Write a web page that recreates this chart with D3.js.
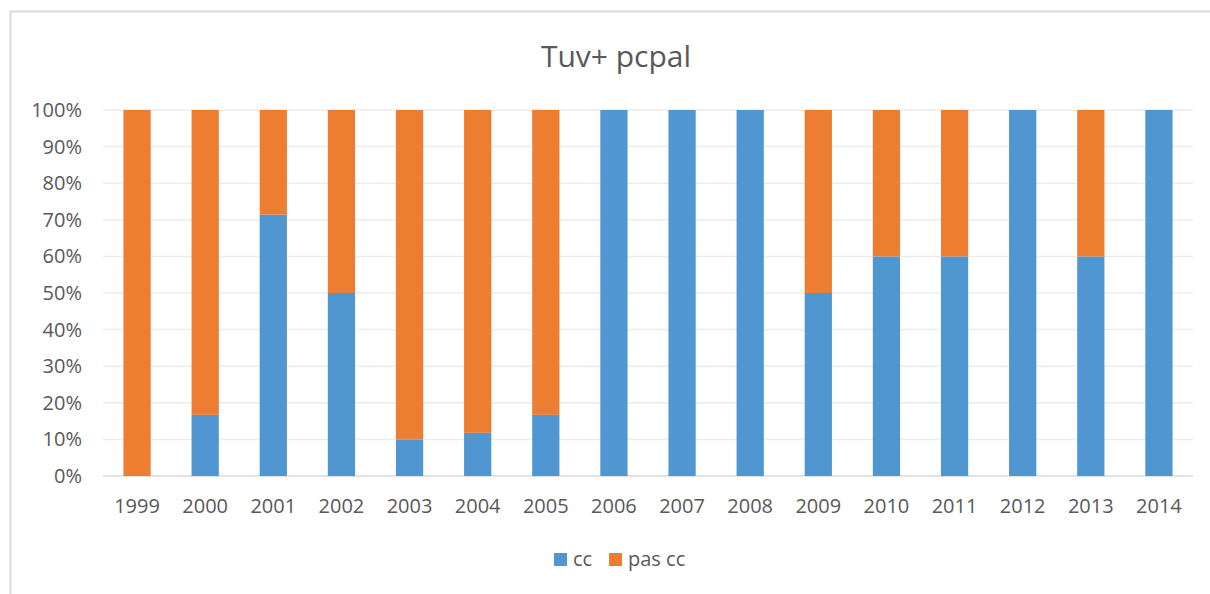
<!DOCTYPE html>
<html>
<head>
<meta charset="utf-8">
<script src="https://cdn.jsdelivr.net/npm/d3@7"></script>
<style>
  html, body { margin: 0; padding: 0; background: #fff; }
  svg { display: block; }
  text { font-family: "Open Sans", "Liberation Sans", sans-serif; }
</style>
</head>
<body>
<svg id="chart" width="1210" height="594"></svg>
<script>
// Yearly share of "cc" vs "pas cc" (percent)
const years = ["1999","2000","2001","2002","2003","2004","2005","2006","2007","2008","2009","2010","2011","2012","2013","2014"];
const ccValues    = [0, 16.7, 71.4, 50, 10, 11.8, 16.7, 100, 100, 100, 50, 60, 60, 100, 60, 100];
const pasCcValues = [100, 83.3, 28.6, 50, 90, 88.2, 83.3, 0, 0, 0, 50, 40, 40, 0, 40, 0];
const seriesNames = ["cc", "pas cc"];
const yTicks = [0, 10, 20, 30, 40, 50, 60, 70, 80, 90, 100];
const titleText = "Tuv+ pcpal";

const colors = { "cc": "#5097d2", "pas cc": "#ed7d31" };
const FONT = "\"Open Sans\", \"Liberation Sans\", sans-serif";

const svg = d3.select("#chart");
const W = 1210, H = 594;

// chart frame (clipped on the right and bottom)
svg.append("rect")
  .attr("x", 10.5).attr("y", 11.5)
  .attr("width", W + 20).attr("height", H + 20)
  .attr("fill", "#fff").attr("stroke", "#d9d9d9").attr("stroke-width", 2);

const plot = { left: 103, right: 1193, top: 110, bottom: 476 };

const x = d3.scaleBand().domain(years).range([plot.left, plot.right]).paddingInner(0.6).paddingOuter(0.3);
const y = d3.scaleLinear().domain([0, 100]).range([plot.bottom, plot.top]);

// gridlines
svg.append("g").selectAll("line").data(yTicks).join("line")
  .attr("x1", plot.left).attr("x2", plot.right)
  .attr("y1", d => y(d)).attr("y2", d => y(d))
  .attr("stroke", d => d === 0 ? "#d9d9d9" : "#ececec")
  .attr("stroke-width", 1.5);

// stacked bars
const rows = years.map((yr, i) => ({ year: yr, "cc": ccValues[i], "pas cc": pasCcValues[i] }));
const stacked = d3.stack().keys(seriesNames)(rows);

svg.append("g").selectAll("g").data(stacked).join("g")
  .attr("fill", d => colors[d.key])
  .selectAll("rect").data(d => d).join("rect")
  .attr("x", d => x(d.data.year))
  .attr("width", x.bandwidth())
  .attr("y", d => y(d[1]))
  .attr("height", d => y(d[0]) - y(d[1]));

// y axis labels
const yAxis = d3.axisLeft(y).tickValues(yTicks).tickFormat(d => d + "%").tickSize(0).tickPadding(0);
const gy = svg.append("g").attr("transform", `translate(82,0)`).call(yAxis);
gy.select(".domain").remove();
gy.selectAll("text").attr("font-size", 20).attr("fill", "#595959").attr("font-family", FONT);

// x axis labels
const xAxis = d3.axisBottom(x).tickSize(0).tickPadding(0);
const gx = svg.append("g").attr("transform", `translate(0,${plot.bottom + 23})`).call(xAxis);
gx.select(".domain").remove();
gx.selectAll("text").attr("font-size", 20).attr("fill", "#595959").attr("font-family", FONT);

// title
svg.append("text")
  .attr("x", 616).attr("y", 67)
  .attr("text-anchor", "middle")
  .attr("font-size", 30).attr("fill", "#595959")
  .text(titleText);

// legend
const legendItems = [
  { name: "cc", x: 554 },
  { name: "pas cc", x: 609 }
];
const lg = svg.append("g");
legendItems.forEach(it => {
  lg.append("rect").attr("x", it.x).attr("y", 553).attr("width", 13).attr("height", 13).attr("fill", colors[it.name]);
  lg.append("text").attr("x", it.x + 19).attr("y", 566)
    .attr("font-size", 20).attr("fill", "#595959").text(it.name);
});
</script>
</body>
</html>
